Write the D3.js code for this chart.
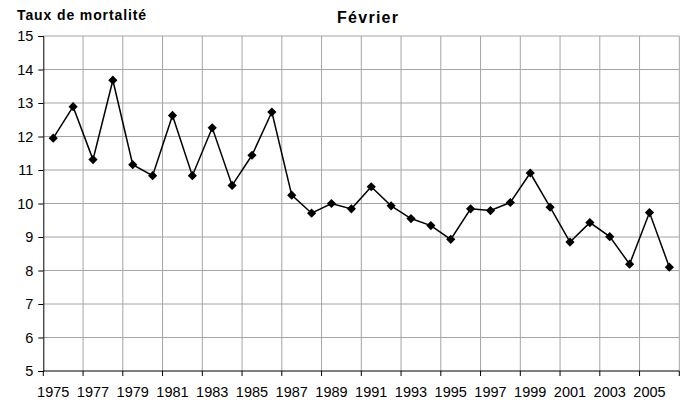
<!DOCTYPE html>
<html>
<head>
<meta charset="utf-8">
<script src="https://cdn.jsdelivr.net/npm/d3@7"></script>
<style>
  body { margin: 0; background: #fff; }
  text { font-family: "Liberation Sans", Arial, sans-serif; }
</style>
</head>
<body>
<svg id="chart" width="688" height="403"></svg>
<script>
// data
let years = d3.range(1975, 2007)
let values = [11.95, 12.89, 11.31, 13.68, 11.16, 10.83, 12.63, 10.83, 12.26, 10.54,
    11.44, 12.73, 10.25, 9.71, 10.0, 9.84, 10.5, 9.93, 9.55, 9.34,
    8.93, 9.84, 9.79, 10.03, 10.91, 9.89, 8.85, 9.43, 9.01, 8.19,
    9.73, 8.1]
let yTicks = d3.range(5, 16)
let labelYears = years.filter((d, i) => i % 2 === 0)

let svg = d3.select("#chart")
let plotLeft = 43.3, plotRight = 679.3, plotTop = 36, plotBottom = 371

let xScale = d3.scaleBand()
    .domain(years)
    .range([plotLeft, plotRight])
    .padding(0)
let yScale = d3.scaleLinear()
    .domain([5, 15])
    .range([plotBottom, plotTop])
let bw = xScale.bandwidth()

// horizontal gridlines
svg.append("g")
    .selectAll("line")
    .data(yTicks.slice(1))
    .join("line")
    .attr("x1", plotLeft).attr("x2", plotRight)
    .attr("y1", d => yScale(d)).attr("y2", d => yScale(d))
    .attr("stroke", "#a4a4a4")
    .attr("stroke-width", 1)

// vertical gridlines at category boundaries, every 2 years
let boundaries = labelYears.map(d => xScale(d)).slice(1).concat([plotRight])
svg.append("g")
    .selectAll("line")
    .data(boundaries)
    .join("line")
    .attr("x1", d => d).attr("x2", d => d)
    .attr("y1", plotTop).attr("y2", plotBottom)
    .attr("stroke", "#a4a4a4")
    .attr("stroke-width", 1)

// y axis
let yAxis = svg.append("g")
    .attr("transform", "translate(" + plotLeft + ",0)")
    .call(d3.axisLeft(yScale).tickValues(yTicks).tickSize(5).tickPadding(5).tickFormat(d3.format("d")))
yAxis.select(".domain").attr("stroke", "#000")
yAxis.selectAll("text").attr("font-size", 14.5).attr("fill", "#000")
    .attr("font-family", "'Liberation Sans', Arial, sans-serif")

// x axis: ticks at boundaries, labels centred on the category
let xg = svg.append("g")
xg.append("line")
    .attr("x1", plotLeft).attr("x2", plotRight)
    .attr("y1", plotBottom).attr("y2", plotBottom)
    .attr("stroke", "#000")
xg.selectAll(".tick")
    .data([plotLeft].concat(boundaries))
    .join("line")
    .attr("class", "tick")
    .attr("x1", d => d).attr("x2", d => d)
    .attr("y1", plotBottom).attr("y2", plotBottom + 5)
    .attr("stroke", "#000")
xg.selectAll("text")
    .data(labelYears)
    .join("text")
    .attr("x", d => xScale(d) + bw / 2)
    .attr("y", 396.5)
    .attr("text-anchor", "middle")
    .attr("font-size", 14.5)
    .text(d => d)

// line
let points = years.map((y, i) => ({ year: y, value: values[i] }))
let valueLine = d3.line()
    .x(d => xScale(d.year) + bw / 2)
    .y(d => yScale(d.value))
svg.append("path")
    .datum(points)
    .attr("d", valueLine)
    .attr("fill", "none")
    .attr("stroke", "#000")
    .attr("stroke-width", 1.5)

// diamond markers
svg.append("g")
    .selectAll("path")
    .data(points)
    .join("path")
    .attr("transform", d => "translate(" + (xScale(d.year) + bw / 2) + "," + yScale(d.value) + ")")
    .attr("d", "M0,-4.6L4.6,0L0,4.6L-4.6,0Z")
    .attr("fill", "#000")

// titles
svg.append("text")
    .attr("x", 17).attr("y", 20)
    .attr("font-size", 14).attr("font-weight", "bold")
    .attr("textLength", 129).attr("lengthAdjust", "spacing")
    .text("Taux de mortalité")
svg.append("text")
    .attr("x", 337).attr("y", 23.3)
    .attr("font-size", 16).attr("font-weight", "bold")
    .attr("textLength", 61).attr("lengthAdjust", "spacing")
    .text("Février")
</script>
</body>
</html>
